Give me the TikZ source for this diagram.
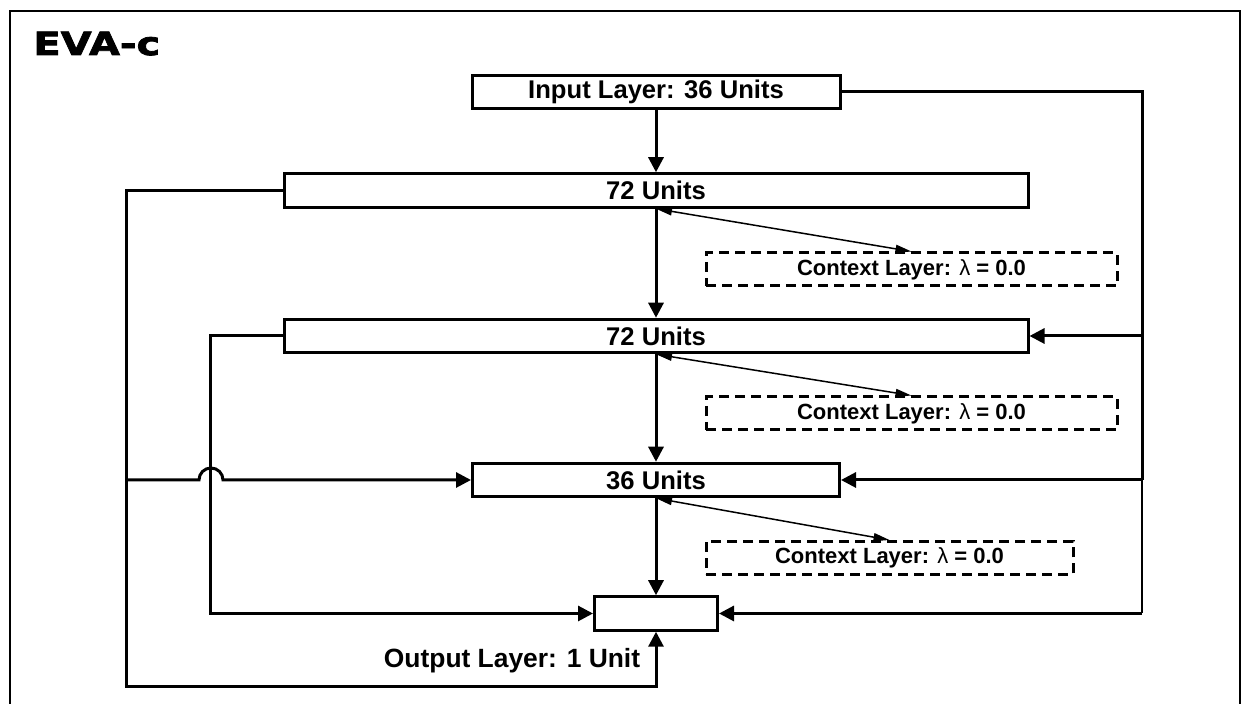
\documentclass[tikz,border=0pt]{standalone}
\usepackage{fontspec}
\setmainfont{Liberation Sans}
\newfontfamily\titlefont[BoldFeatures={FakeStretch=1.25,FakeBold=2.5}]{DejaVu Sans}
\usetikzlibrary{arrows.meta}

\begin{document}
\begin{tikzpicture}[x=0.5pt, y=-0.5pt,
		layer/.style={draw, line width=1.5pt, inner sep=0pt, minimum height=16.75pt, font=\fontsize{12.8}{14}\selectfont\bfseries},
		context/.style={draw, dash pattern=on 5pt off 3pt, line width=1.5pt, inner sep=0pt, minimum height=16.5pt, font=\fontsize{11}{13}\selectfont\bfseries},
		conn/.style={line width=1.5pt},
		arr/.style={conn, -{Triangle[length=7.5pt,width=7.5pt]}},
		ctxarr/.style={line width=0.75pt, {Triangle[length=8pt,width=4pt]}-{Triangle[length=8pt,width=4pt]}}]
		\useasboundingbox (0,0) rectangle (1244,704);
		% frame and title
		\draw[line width=1pt] (10,704) -- (10,11) -- (1240,11) -- (1240,704);
		\node[anchor=base west, inner sep=0pt, font=\titlefont\bfseries\fontsize{16}{18}\selectfont] (title) at (33,55) {EVA-c};

		% layers
		\node[layer, minimum width=184pt] (in) at (656,92) {Input Layer: 36 Units};
		\node[layer, minimum width=372pt] (h1) at (656,190.5) {72 Units};
		\node[layer, minimum width=372pt] (h2) at (656,336) {72 Units};
		\node[layer, minimum width=183.5pt] (h3) at (656,480) {36 Units};
		\node[layer, minimum width=61.5pt] (out) at (656,613.5) {};
		\node[anchor=base, inner sep=0pt, font=\fontsize{13.2}{15}\selectfont\bfseries] (outlbl) at (512,668) {Output Layer: 1 Unit};

		% context layers
		\node[context, minimum width=205.5pt] (c1) at (911.5,269.5) {Context Layer: \textmd{λ} = 0.0};
		\node[context, minimum width=205.5pt] (c2) at (911.5,413.5) {Context Layer: \textmd{λ} = 0.0};
		\node[context, minimum width=183.5pt] (c3) at (889.5,558) {Context Layer: \textmd{λ} = 0.0};

		% feed forward
		\draw[arr] (in.south) -- (h1.north);
		\draw[arr] (h1.south) -- (h2.north);
		\draw[arr] (h2.south) -- (h3.north);
		\draw[arr] (h3.south) -- (out.north);
		\draw[ctxarr] (h1.south) -- (c1.north);
		\draw[ctxarr] (h2.south) -- (c2.north);
		\draw[ctxarr] (h3.south) -- (c3.north);

		% input shortcuts on the right
		\coordinate (r1) at (1142,336);
		\coordinate (r2) at (1142,480);
		\coordinate (r3) at (1142,613.5);
		\draw[conn] (in.east) -| (r2);
		\draw[line width=1pt] (r2) -- (r3);
		\draw[arr] (r1) -- (h2.east);
		\draw[arr] (r2) -- (h3.east);
		\draw[arr] (r3) -- (out.east);

		% shortcuts on the left
		\coordinate (l1) at (126,687);
		\coordinate (l2) at (210,613.5);
		\coordinate (l3) at (126,480);
		\draw[arr] (h1.west) -| (l1) -| (out.south);
		\draw[arr] (h2.west) -| (l2) -- (out.west);
		\draw[arr] (l3) -- ++(73,0) arc[start angle=180, end angle=0, radius=6pt] -- (h3.west);
	\end{tikzpicture}
\end{document}
